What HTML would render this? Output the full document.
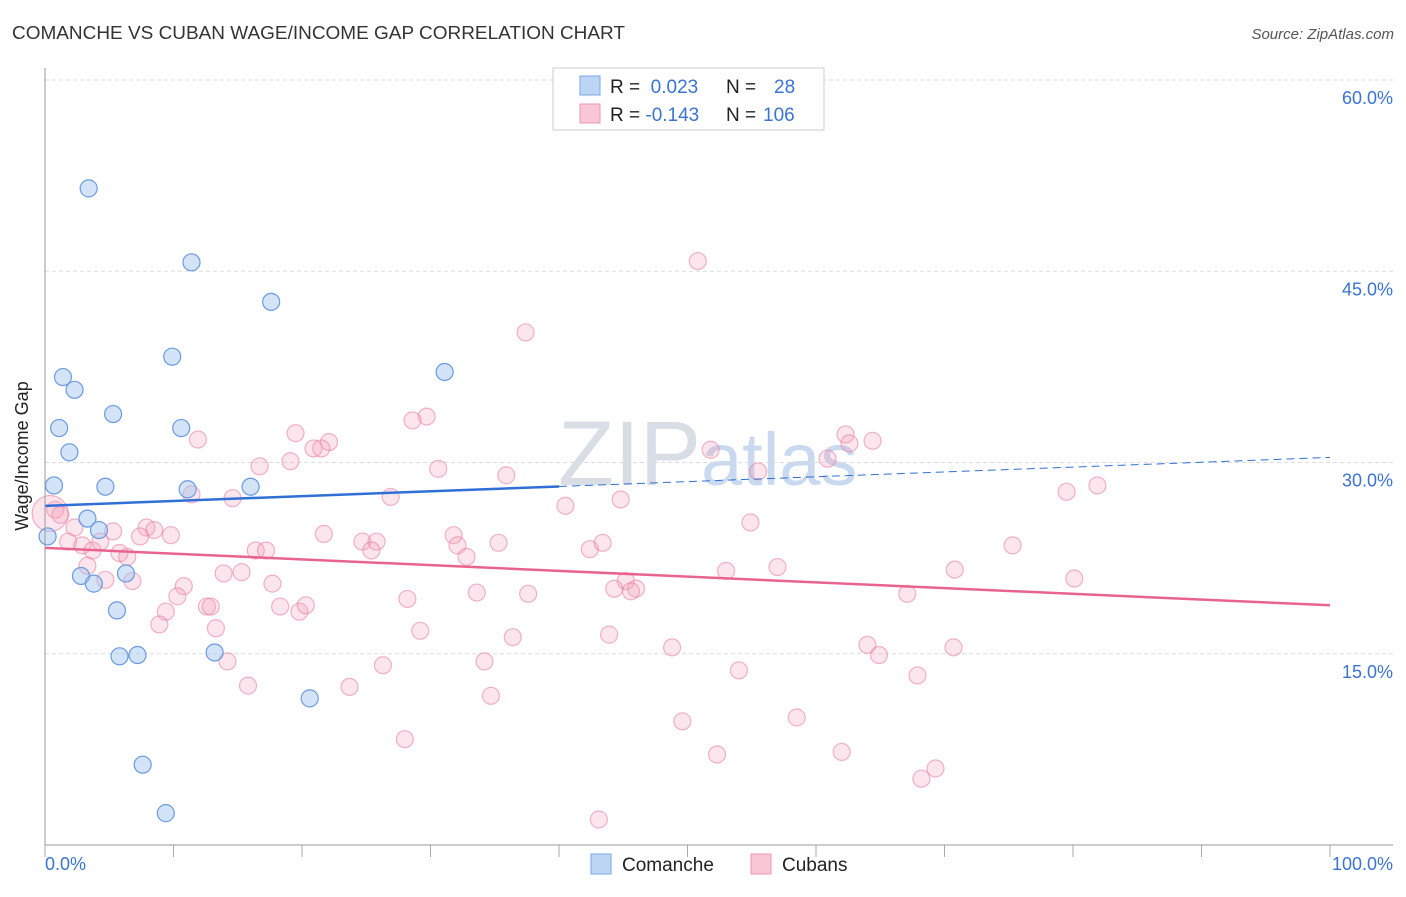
<!DOCTYPE html>
<html><head><meta charset="utf-8"><style>
body{margin:0;background:#fff;font-family:"Liberation Sans",sans-serif}
svg text{font-family:"Liberation Sans",sans-serif}
</style></head><body>
<svg id="c" width="1406" height="892" xmlns="http://www.w3.org/2000/svg">
<text x="12" y="39" font-size="18" fill="#333" textLength="613" lengthAdjust="spacingAndGlyphs">COMANCHE VS CUBAN WAGE/INCOME GAP CORRELATION CHART</text>
<text x="1394" y="39" font-size="15" fill="#555" font-style="italic" text-anchor="end">Source: ZipAtlas.com</text>
<text x="558" y="485" font-size="92" fill="#d8dde6" font-family="Liberation Serif">ZIP<tspan fill="#c9d9ef" font-family="Liberation Sans" font-size="74">atlas</tspan></text>
<g id="grid"></g><g id="pts"></g><g id="lines"></g>
<line x1="45" y1="68" x2="45" y2="845" stroke="#999"/>
<line x1="45" y1="845" x2="1393" y2="845" stroke="#999"/>
<text x="28" y="456" font-size="18" fill="#222" text-anchor="middle" transform="rotate(-90 28 456)">Wage/Income Gap</text>
<text x="45" y="870" font-size="18" fill="#3a73d0">0.0%</text>
<text x="1393" y="870" font-size="18" fill="#3a73d0" text-anchor="end">100.0%</text>
<g>
<rect x="553" y="68" width="271" height="62" fill="#fff" stroke="#ccc"/>
<rect x="580" y="76" width="20" height="19" fill="#bcd5f5" stroke="#7aa6e6"/>
<rect x="580" y="104" width="20" height="19" fill="#f9c6d5" stroke="#ee97b2"/>
<text x="610" y="93" font-size="19" fill="#222">R = <tspan fill="#3a73d0">&#160;0.023</tspan><tspan x="726">N = </tspan><tspan fill="#3a73d0" x="774">28</tspan></text>
<text x="610" y="121" font-size="19" fill="#222">R = <tspan fill="#3a73d0">-0.143</tspan><tspan x="726">N = </tspan><tspan fill="#3a73d0" x="763">106</tspan></text>
</g>
<g>
<rect x="591" y="854" width="20" height="20" fill="#bcd5f5" stroke="#7aa6e6"/>
<text x="622" y="871" font-size="19" fill="#222">Comanche</text>
<rect x="751" y="854" width="20" height="20" fill="#f9c6d5" stroke="#ee97b2"/>
<text x="782" y="871" font-size="19" fill="#222">Cubans</text>
</g>
</svg>
<script>
const yTicks=[15,30,45,60];
const yTickLabels=["15.0%","30.0%","45.0%","60.0%"];
const xTicks=[0,10,20,30,40,50,60,70,80,90,100];
const blueX=[3.4,11.4,17.6,9.9,31.1,1.4,2.3,5.3,1.1,10.6,1.9,0.7,4.7,11.1,16.0,3.3,4.2,0.2,2.8,3.8,6.3,5.6,5.8,7.2,13.2,20.6,7.6,9.4];
const blueY=[51.5,45.7,42.6,38.3,37.1,36.7,35.7,33.8,32.7,32.7,30.8,28.2,28.1,27.9,28.1,25.6,24.7,24.2,21.1,20.5,21.3,18.4,14.8,14.9,15.1,11.5,6.3,2.5];
const pinkX=[50.8,37.4,29.7,28.6,11.9,19.5,20.9,22.1,21.5,19.1,16.7,30.6,35.9,51.8,55.5,60.9,62.3,62.6,64.4,79.5,81.9,11.4,14.6,26.9,40.5,44.8,54.9,0.8,1.2,2.3,5.3,7.9,8.5,9.8,7.4,1.8,2.9,3.7,4.3,5.8,6.4,3.3,4.7,6.8,21.7,24.7,25.8,25.4,31.8,32.1,32.8,35.3,42.4,43.4,16.4,17.2,13.9,15.3,17.7,10.8,10.3,12.6,12.9,9.4,8.9,13.3,18.3,19.8,20.3,28.2,33.6,37.6,45.2,44.3,46.0,45.6,53.0,57.0,70.8,80.1,75.3,67.1,29.2,36.4,43.9,48.8,64.0,64.9,70.7,14.2,26.3,34.2,54.0,67.9,15.8,23.7,34.7,49.6,58.5,28.0,52.3,62.0,68.2,69.3,43.1,0.4];
const pinkY=[45.8,40.2,33.6,33.3,31.8,32.3,31.1,31.6,31.1,30.1,29.7,29.5,29.0,31.0,29.3,30.3,32.2,31.5,31.7,27.7,28.2,27.5,27.2,27.3,26.6,27.1,25.3,26.3,25.9,24.9,24.6,24.9,24.7,24.3,24.2,23.8,23.5,23.1,23.8,22.9,22.6,21.9,20.8,20.7,24.4,23.8,23.8,23.1,24.3,23.5,22.6,23.7,23.2,23.7,23.1,23.1,21.3,21.4,20.5,20.3,19.5,18.7,18.7,18.3,17.3,17.0,18.7,18.3,18.8,19.3,19.8,19.7,20.7,20.1,20.1,19.9,21.5,21.8,21.6,20.9,23.5,19.7,16.8,16.3,16.5,15.5,15.7,14.9,15.5,14.4,14.1,14.4,13.7,13.3,12.5,12.4,11.7,9.7,10.0,8.3,7.1,7.3,5.2,6.0,2.0,26.0];
const blueFit=[26.6,30.4];
const pinkFit=[23.3,18.8];
const NS='http://www.w3.org/2000/svg';
const sx=v=>45+v*12.85, sy=v=>845-v*12.75;
function mk(t,a,p){const e=document.createElementNS(NS,t);for(const k in a)e.setAttribute(k,a[k]);document.getElementById(p).appendChild(e);return e;}
yTicks.forEach((t,i)=>{
 const l=mk('line',{x1:45,x2:1393,y1:sy(t),y2:sy(t),stroke:'#ddd','stroke-dasharray':'4,3'},'grid');
 
 
 const tx=mk('text',{x:1393,y:sy(t)+24,'font-size':18,fill:'#3a73d0','text-anchor':'end'},'grid');
 tx.textContent=yTickLabels[i];
 
 
});
xTicks.forEach(t=>{
 const l=mk('line',{x1:sx(t),x2:sx(t),y1:845,y2:857,stroke:'#aaa'},'grid');
 
 
});
pinkX.forEach((x,i)=>{
 const big=i===pinkX.length-1;
 const c=mk('circle',{cx:sx(x),cy:sy(pinkY[i]),r:big?18:8.5,fill:'rgba(244,160,186,0.28)',stroke:'rgba(232,120,156,0.55)','stroke-width':1.2},'pts');
 
 
});
blueX.forEach((x,i)=>{
 const c=mk('circle',{cx:sx(x),cy:sy(blueY[i]),r:8.5,fill:'rgba(160,195,240,0.45)',stroke:'#6a9ae0','stroke-width':1.2},'pts');
 
 
});
const bAt=x=>blueFit[0]+(blueFit[1]-blueFit[0])*x/100;
const pAt=x=>pinkFit[0]+(pinkFit[1]-pinkFit[0])*x/100;
let l1=mk('line',{x1:sx(0),y1:sy(bAt(0)),x2:sx(40),y2:sy(bAt(40)),stroke:'#2f6fd6','stroke-width':2.5},'lines');


let l2=mk('line',{x1:sx(40),y1:sy(bAt(40)),x2:sx(100),y2:sy(bAt(100)),stroke:'#2f6fd6','stroke-width':1,'stroke-dasharray':'8,5'},'lines');


let l3=mk('line',{x1:sx(0),y1:sy(pAt(0)),x2:sx(100),y2:sy(pAt(100)),stroke:'#e8648f','stroke-width':2.5},'lines');


</script>
</body></html>
